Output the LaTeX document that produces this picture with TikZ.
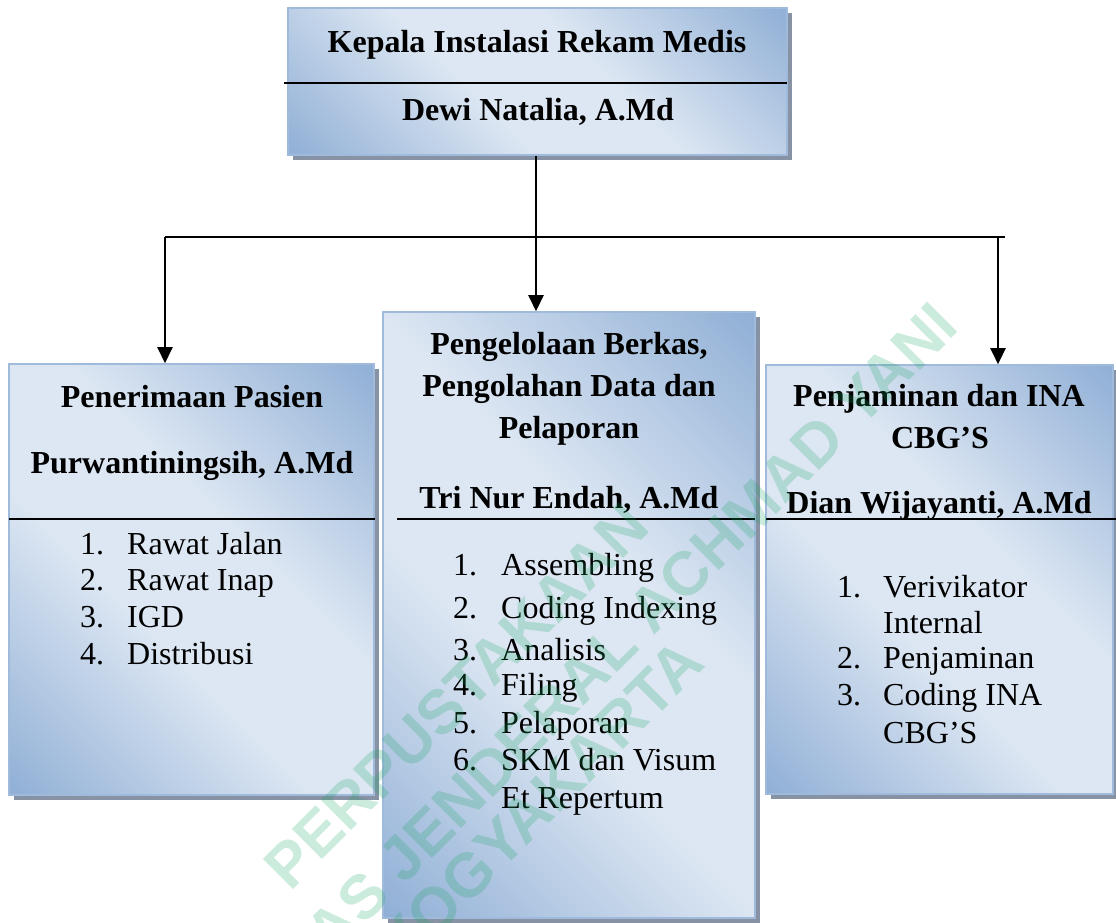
\documentclass[tikz,border=0pt]{standalone}
\usepackage{fontspec}
\setmainfont{Liberation Serif}
\newfontfamily\wmfont{Liberation Sans}
\usetikzlibrary{arrows.meta,shadows}
\definecolor{boxdk}{RGB}{145,176,214}
\definecolor{boxlt}{RGB}{221,231,243}
\definecolor{boxline}{RGB}{160,186,220}
\definecolor{shadowc}{RGB}{135,146,164}
\definecolor{wmgreen}{RGB}{20,165,95}
\pgfdeclarehorizontalshading{boxgrad}{100bp}{color(0bp)=(boxdk); color(15bp)=(boxdk); color(42bp)=(boxlt); color(58bp)=(boxlt); color(85bp)=(boxdk); color(100bp)=(boxdk)}
\tikzset{
  orgbox/.style={draw=boxline, line width=1.6pt, shading=boxgrad, shading angle=45,
    inner sep=0pt, drop shadow={shadow xshift=5pt, shadow yshift=-5pt, fill=shadowc, opacity=1}},
  ttl/.style={font=\bfseries\fontsize{32}{38}\selectfont, inner sep=0pt, anchor=base},
  itm/.style={font=\fontsize{32}{38}\selectfont, inner sep=0pt, anchor=base west},
  divider/.style={line width=2pt, black},
  conn/.style={line width=2.4pt, black},
  arr/.style={conn, -{Triangle[length=16pt,width=15pt]}},
  wm/.style={font=\wmfont\bfseries\fontsize{62}{62}\selectfont, text=wmgreen, text opacity=0.22, inner sep=0pt, rotate=45}
}
\begin{document}
\begin{tikzpicture}[x=1pt,y=-1pt]
\useasboundingbox (0,0) rectangle (1116,922);
% boxes
\node[orgbox, minimum width=499pt, minimum height=147pt] (top) at (537.5,81.5) {};
\node[orgbox, minimum width=365pt, minimum height=431pt] (left) at (191.5,579.5) {};
\node[orgbox, minimum width=372pt, minimum height=606pt] (mid) at (569,615) {};
\node[orgbox, minimum width=347pt, minimum height=429pt] (right) at (939.5,579.5) {};
% dividers
\draw[divider] (284,83) -- (787,83);
\draw[divider] (9,519) -- (375,519);
\draw[divider] (397,519) -- (755,519);
\draw[divider] (766,519) -- (1116,519);
% connectors
\coordinate (bl) at (165,237);
\coordinate (bm) at (536,237);
\coordinate (br) at (998,237);
\coordinate (be) at (1005,237);
\draw[arr] (top.south -| bm) -- (mid.north -| bm);
\draw[conn] (bl) -- (be);
\draw[arr] (bl) -- (left.north -| bl);
\draw[arr] (br) -- (right.north -| br);
% top texts
\node[ttl] (t1) at (537,52) {Kepala Instalasi Rekam Medis};
\node[ttl] (t2) at (538,120) {Dewi Natalia, A.Md};
% left texts
\node[ttl] (l1) at (192,407) {Penerimaan Pasien};
\node[ttl] (l2) at (192,473) {Purwantiningsih, A.Md};
\node[itm] (la1) at (80,554) {1.};  \node[itm] (lb1) at (127,554) {Rawat Jalan};
\node[itm] (la2) at (80,590) {2.};  \node[itm] (lb2) at (127,590) {Rawat Inap};
\node[itm] (la3) at (80,627) {3.};  \node[itm] (lb3) at (127,627) {IGD};
\node[itm] (la4) at (80,664) {4.};  \node[itm] (lb4) at (127,664) {Distribusi};
% middle texts
\node[ttl] (m1) at (569,354) {Pengelolaan Berkas,};
\node[ttl] (m2) at (569,396) {Pengolahan Data dan};
\node[ttl] (m3) at (569,438) {Pelaporan};
\node[ttl] (m4) at (569,508) {Tri Nur Endah, A.Md};
\node[itm] (ma1) at (453,575) {1.};  \node[itm] (mb1) at (501,575) {Assembling};
\node[itm] (ma2) at (453,618) {2.};  \node[itm] (mb2) at (501,618) {Coding Indexing};
\node[itm] (ma3) at (453,660) {3.};  \node[itm] (mb3) at (501,660) {Analisis};
\node[itm] (ma4) at (453,695) {4.};  \node[itm] (mb4) at (501,695) {Filing};
\node[itm] (ma5) at (453,733) {5.};  \node[itm] (mb5) at (501,733) {Pelaporan};
\node[itm] (ma6) at (453,770) {6.};  \node[itm] (mb6) at (501,770) {SKM dan Visum};
\node[itm] (mb7) at (501,808) {Et Repertum};
% right texts
\node[ttl] (r1) at (939,406) {Penjaminan dan INA};
\node[ttl] (r2) at (940,448) {CBG’S};
\node[ttl] (r3) at (939,513) {Dian Wijayanti, A.Md};
\node[itm] (ra1) at (837,597) {1.};  \node[itm] (rb1) at (883,597) {Verivikator};
\node[itm] (rb1b) at (883,633) {Internal};
\node[itm] (ra2) at (837,668) {2.};  \node[itm] (rb2) at (883,668) {Penjaminan};
\node[itm] (ra3) at (837,705) {3.};  \node[itm] (rb3) at (883,705) {Coding INA};
\node[itm] (rb3b) at (883,743) {CBG’S};
% watermark
\begin{scope}
\clip (0,0) rectangle (1116,922);
\node[wm] (wm1) at (456,696) {PERPUSTAKAAN};
\node[wm] (wm2) at (516,744) {UNIVERSITAS JENDERAL ACHMAD YANI};
\node[wm] (wm3) at (540,803) {YOGYAKARTA};
\end{scope}
\end{tikzpicture}
\end{document}
